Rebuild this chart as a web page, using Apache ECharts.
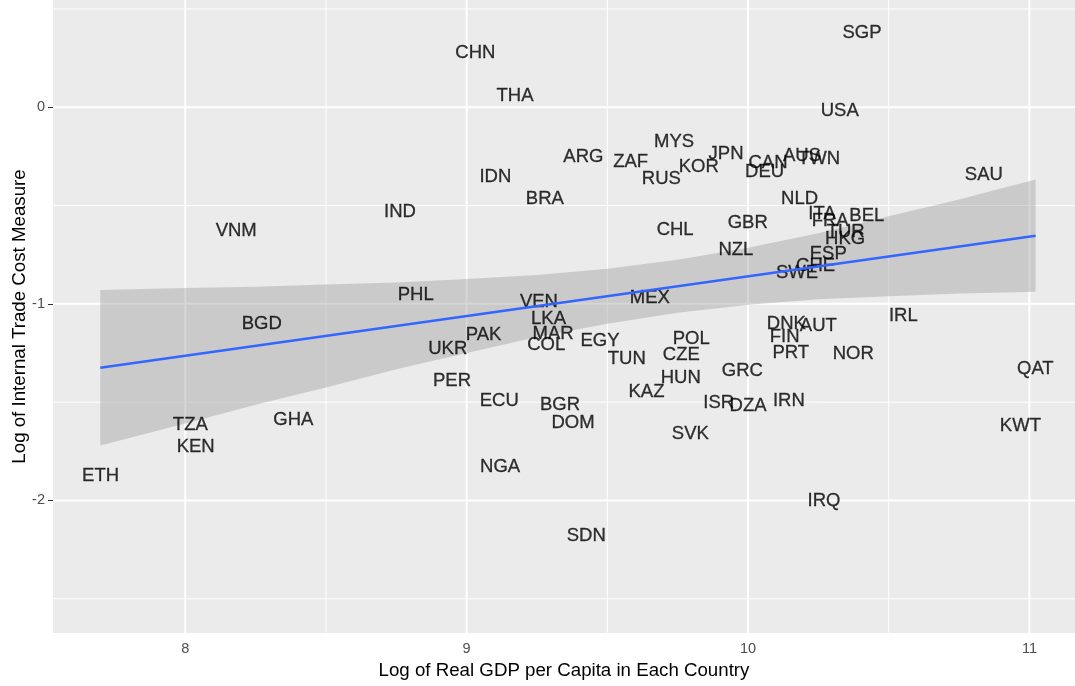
<!DOCTYPE html>
<html>
<head>
<meta charset="utf-8">
<script src="https://cdn.jsdelivr.net/npm/echarts@6/dist/echarts.min.js"></script>
<style>
html,body{margin:0;padding:0;background:#fff;}
#chart{width:1075px;height:686px;}
</style>
</head>
<body>
<div id="chart"></div>
<script>
// ---- data ----
const countries = ["VNM","IND","CHN","THA","IDN","BRA","ARG","ZAF","MYS","RUS","KOR","JPN","CAN","DEU","AUS","TWN","SGP","USA","SAU","NLD","ITA","FRA","BEL","GBR","TUR","HKG","CHL","NZL","ESP","CHE","SWE","PHL","BGD","VEN","MEX","LKA","PAK","MAR","COL","UKR","EGY","TUN","POL","CZE","DNK","AUT","FIN","PRT","NOR","IRL","QAT","GRC","HUN","KAZ","PER","ECU","BGR","DOM","ISR","DZA","IRN","SVK","KWT","TZA","KEN","GHA","ETH","NGA","SDN","IRQ"];
const logGdp = [8.181,8.763,9.031,9.172,9.102,9.278,9.415,9.583,9.737,9.692,9.825,9.922,10.071,10.059,10.192,10.252,10.405,10.326,10.838,10.183,10.263,10.292,10.422,9.999,10.347,10.345,9.741,9.957,10.285,10.240,10.174,8.819,8.272,9.257,9.651,9.291,9.060,9.307,9.283,8.933,9.474,9.569,9.798,9.763,10.136,10.250,10.130,10.152,10.374,10.552,11.021,9.980,9.761,9.639,8.948,9.116,9.332,9.378,9.896,10.000,10.145,9.795,10.968,8.018,8.037,8.384,7.699,9.119,9.425,10.270];
const logCost = [-0.614,-0.518,0.291,0.071,-0.344,-0.454,-0.239,-0.264,-0.166,-0.352,-0.293,-0.225,-0.271,-0.315,-0.234,-0.251,0.389,-0.005,-0.332,-0.454,-0.530,-0.563,-0.538,-0.576,-0.623,-0.657,-0.609,-0.714,-0.733,-0.792,-0.831,-0.944,-1.088,-0.978,-0.956,-1.066,-1.147,-1.139,-1.198,-1.215,-1.178,-1.269,-1.168,-1.249,-1.088,-1.100,-1.156,-1.236,-1.244,-1.046,-1.317,-1.328,-1.362,-1.435,-1.381,-1.482,-1.503,-1.592,-1.489,-1.506,-1.481,-1.647,-1.608,-1.601,-1.714,-1.577,-1.861,-1.816,-2.166,-1.988];

// fitted line and its confidence band
const fitX = [7.698, 11.022];
const fitY = [-1.325, -0.653];
const bandX    = [7.698, 8, 8.25, 8.5, 8.75, 9, 9.25, 9.5, 9.75, 10, 10.25, 10.5, 10.75, 11.022];
const bandHigh = [-0.930, -0.919, -0.913, -0.901, -0.891, -0.874, -0.853, -0.821, -0.775, -0.715, -0.641, -0.555, -0.469, -0.368];
const bandLow  = [-1.720, -1.609, -1.513, -1.425, -1.333, -1.250, -1.169, -1.101, -1.045, -1.005, -0.977, -0.961, -0.947, -0.938];

// axes
const xMin = 7.530, xMax = 11.162;
const yMin = -2.674, yMax = 0.5455;
const xMajor = [8, 9, 10, 11];
const xMinor = [8.5, 9.5, 10.5];
const yMajor = [-2, -1, 0];
const yMinor = [-2.5, -1.5, -0.5, 0.5];

const chart = echarts.init(document.getElementById('chart'), null, {renderer: 'canvas'});

// grid line items: [value, isVertical(1)/horizontal(0), width]
const gridItems = [];
xMinor.forEach(v => gridItems.push([v, 1, 1]));
yMinor.forEach(v => gridItems.push([v, 0, 1]));
xMajor.forEach(v => gridItems.push([v, 1, 2]));
yMajor.forEach(v => gridItems.push([v, 0, 2]));

const option = {
  animation: false,
  textStyle: {fontFamily: 'Liberation Sans'},
  grid: {left: 53, right: 0, top: 0, bottom: 53, show: true, backgroundColor: '#EBEBEB', borderWidth: 0, containLabel: false, outerBoundsMode: 'none'},
  xAxis: {
    type: 'value', min: xMin, max: xMax,
    name: 'Log of Real GDP per Capita in Each Country',
    nameLocation: 'middle', nameGap: 28, nameMoveOverlap: false,
    nameTextStyle: {fontSize: 18.7, color: '#000', fontFamily: 'Liberation Sans'},
    axisLine: {show: false},
    axisTick: {show: true, customValues: xMajor, length: 5, lineStyle: {color: '#333', width: 1}},
    axisLabel: {customValues: xMajor, color: '#4D4D4D', fontSize: 14.5, margin: 8},
    splitLine: {show: false}
  },
  yAxis: {
    type: 'value', min: yMin, max: yMax,
    name: 'Log of Internal Trade Cost Measure',
    nameLocation: 'middle', nameGap: 24, nameMoveOverlap: false,
    nameTextStyle: {fontSize: 18.7, color: '#000', fontFamily: 'Liberation Sans'},
    axisLine: {show: false},
    axisTick: {show: true, customValues: yMajor, length: 5, lineStyle: {color: '#333', width: 1}},
    axisLabel: {customValues: yMajor, color: '#4D4D4D', fontSize: 14.5, margin: 8},
    splitLine: {show: false}
  },
  series: [
    {
      type: 'custom', z: 1, silent: true,
      data: gridItems,
      renderItem: function (params, api) {
        const v = api.value(0), vert = api.value(1), w = api.value(2);
        let p1, p2;
        if (vert === 1) { p1 = api.coord([v, yMin]); p2 = api.coord([v, yMax]); }
        else { p1 = api.coord([xMin, v]); p2 = api.coord([xMax, v]); }
        return {type: 'line', shape: {x1: p1[0], y1: p1[1], x2: p2[0], y2: p2[1]}, style: {stroke: '#FFFFFF', lineWidth: w}};
      }
    },
    {
      type: 'custom', z: 2, silent: true,
      data: bandX.map((x, i) => [x, bandLow[i], bandHigh[i]]),
      renderItem: function (params, api) {
        if (params.dataIndex !== 0) return null;
        const pts = [];
        for (let i = 0; i < bandX.length; i++) pts.push(api.coord([bandX[i], bandHigh[i]]));
        for (let i = bandX.length - 1; i >= 0; i--) pts.push(api.coord([bandX[i], bandLow[i]]));
        return {type: 'polygon', shape: {points: pts}, style: {fill: 'rgba(153,153,153,0.4)'}};
      }
    },
    {
      type: 'scatter', z: 3, silent: true,
      symbolSize: 1, itemStyle: {color: 'rgba(0,0,0,0)'},
      data: countries.map((c, i) => [logGdp[i], logCost[i], c]),
      label: {
        show: true, position: [0.5, 3], align: 'center', verticalAlign: 'middle',
        formatter: p => p.value[2],
        color: '#000', fontSize: 18.5, fontFamily: 'Liberation Sans',
        textBorderColor: '#000', textBorderWidth: 0.3
      },
      labelLayout: {hideOverlap: false}
    },
    {
      type: 'line', z: 4, silent: true,
      data: fitX.map((x, i) => [x, fitY[i]]),
      showSymbol: false, symbol: 'none',
      lineStyle: {color: '#3366FF', width: 2.5}
    }
  ]
};
chart.setOption(option);
</script>
</body>
</html>
